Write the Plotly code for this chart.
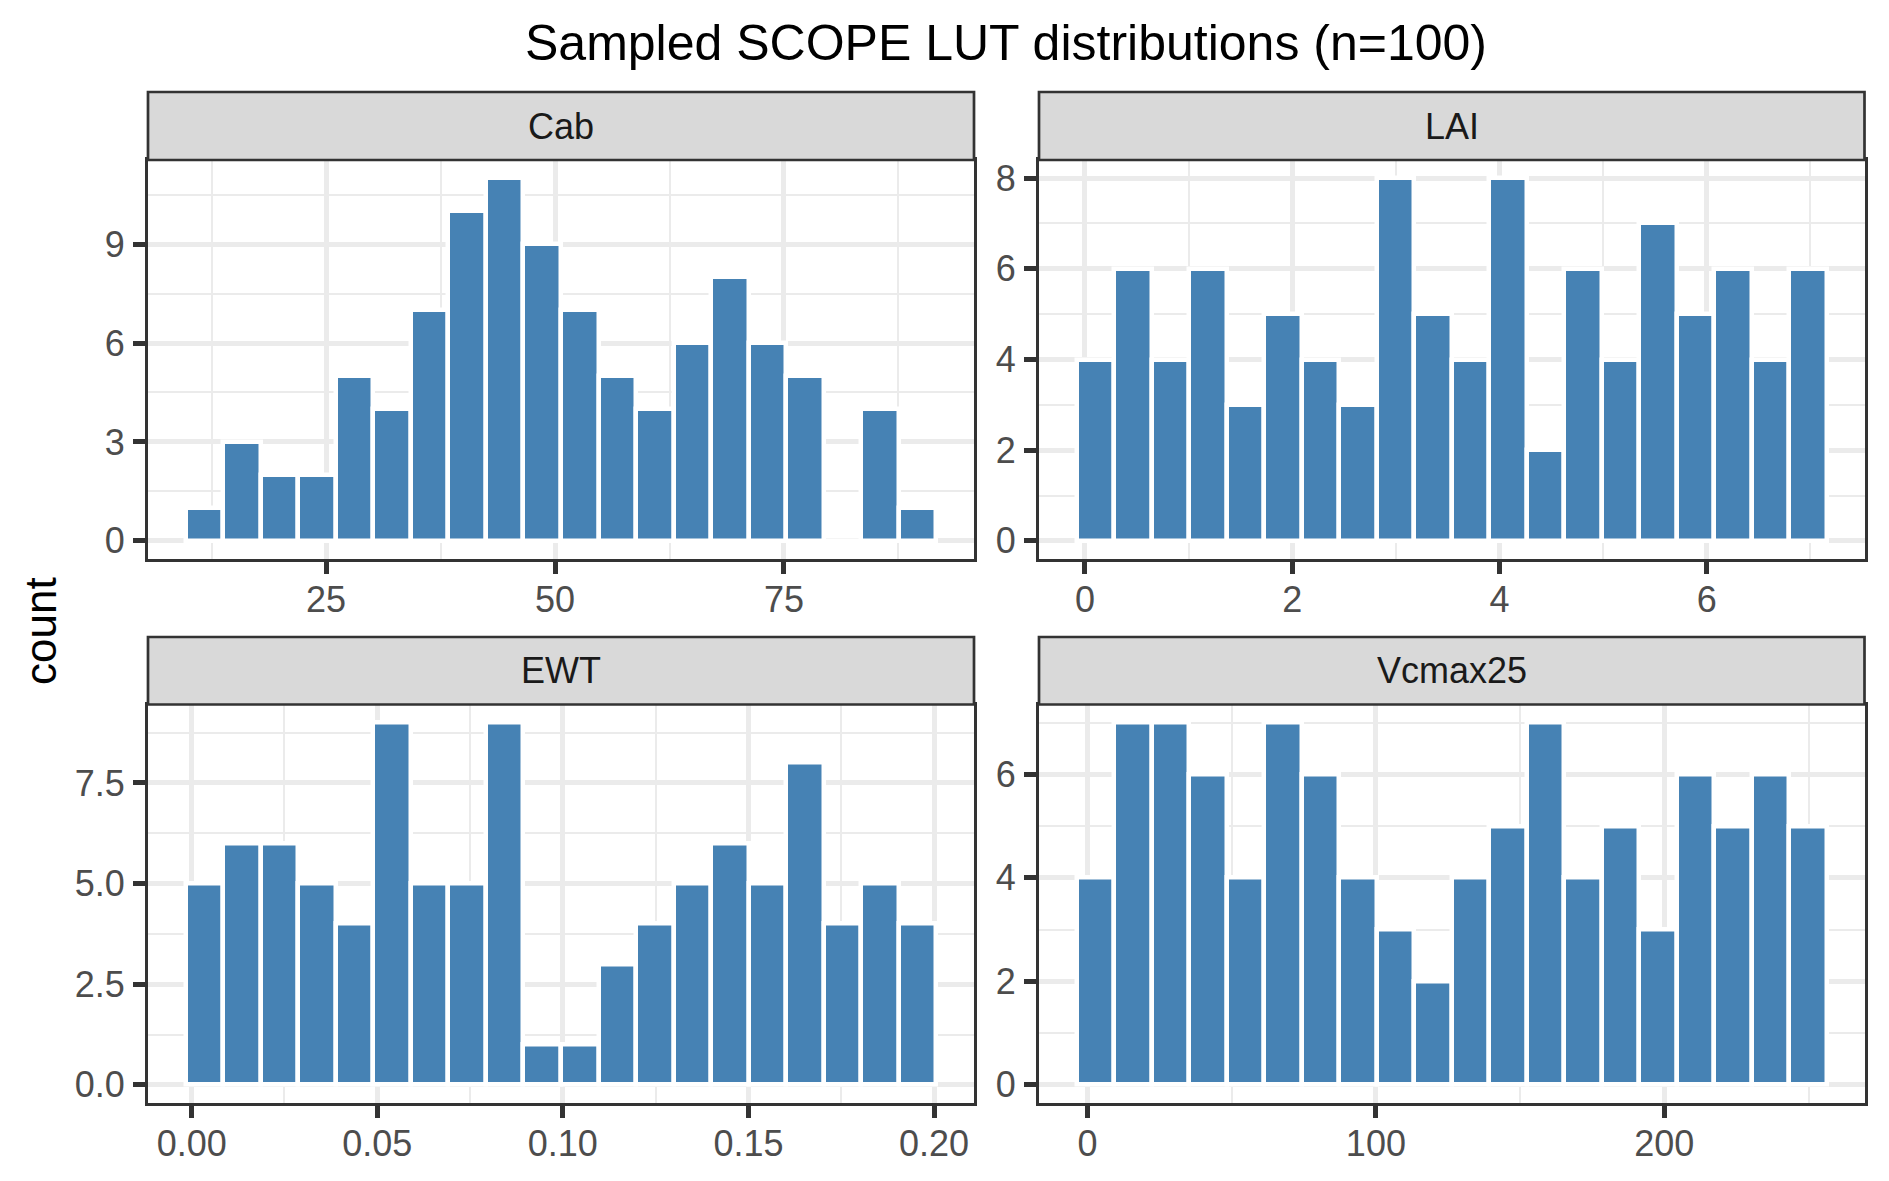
import numpy as np
import plotly.graph_objects as go

# ==== histogram counts (20 bins per variable) ====
panels = ["Cab", "LAI", "EWT", "Vcmax25"]

cab_counts = [1, 3, 2, 2, 5, 4, 7, 10, 11, 9, 7, 5, 4, 6, 8, 6, 5, 0, 4, 1]
lai_counts = [4, 6, 4, 6, 3, 5, 4, 3, 8, 5, 4, 8, 2, 6, 4, 7, 5, 6, 4, 6]
ewt_counts = [5, 6, 6, 5, 4, 9, 5, 5, 9, 1, 1, 3, 4, 5, 6, 5, 8, 4, 5, 4]
vcmax_counts = [4, 7, 7, 6, 4, 7, 6, 4, 3, 2, 4, 5, 7, 4, 5, 3, 6, 5, 6, 5]

# centre of the first and last bin (ggplot bins=20 puts them on min / max)
cab_span = [11.7, 89.6]
lai_span = [0.10, 6.98]
ewt_span = [0.0034, 0.1956]
vcmax_span = [2.7, 249.9]

counts = [cab_counts, lai_counts, ewt_counts, vcmax_counts]
spans = [cab_span, lai_span, ewt_span, vcmax_span]

# axis ticks: (x dtick, x format, y dtick, y format)
x_dticks = [25, 2, 0.05, 100]
x_formats = ["d", "d", ".2f", "d"]
y_dticks = [3, 2, 2.5, 2]
y_formats = ["d", "d", ".1f", "d"]

W, H = 1889, 1181
FONT = "Liberation Sans, Arial, Helvetica, sans-serif"
BAR = "#4682B4"
GRID = "#EBEBEB"
DARK = "#333333"

# panel boxes in pixels: (left, right, top, bottom) of the plotting area
col_x = [(148, 974), (1039, 1864.5)]
row_y = [(160, 559), (704.5, 1103)]
strip_top = [92, 637]

fig = go.Figure()

for i, name in enumerate(panels):
    r, c = divmod(i, 2)
    n = i + 1
    lo, hi = spans[i]
    nb = len(counts[i])
    centres = np.linspace(lo, hi, nb)
    w = (hi - lo) / (nb - 1)

    xa = "x" if n == 1 else f"x{n}"
    ya = "y" if n == 1 else f"y{n}"

    fig.add_trace(go.Bar(
        x=centres, y=counts[i], width=w,
        marker=dict(color=BAR, line=dict(color="white", width=4.5)),
        xaxis=xa, yaxis=ya, showlegend=False, hoverinfo="x+y",
    ))

    span = hi - lo + w
    xr = [lo - w / 2 - 0.05 * span, hi + w / 2 + 0.05 * span]
    ymax = max(counts[i])
    yr = [-0.05 * ymax, 1.05 * ymax]

    x0, x1 = col_x[c]
    y0, y1 = row_y[r]
    common = dict(
        showline=True, mirror=True, linecolor=DARK, linewidth=3,
        showgrid=True, gridcolor=GRID, gridwidth=4.5, zeroline=False,
        ticks="outside", ticklen=12, tickwidth=4.5, tickcolor=DARK,
        tickfont=dict(family=FONT, size=36, color="#4D4D4D"),
        automargin=False, fixedrange=True,
    )
    fig.layout[f"xaxis{'' if n == 1 else n}"] = dict(
        common, domain=[x0 / W, x1 / W], anchor=ya, range=xr,
        tick0=0, dtick=x_dticks[i], tickformat=x_formats[i],
        ticklabelstandoff=-5,
        minor=dict(dtick=x_dticks[i] / 2, showgrid=True, gridcolor=GRID,
                   gridwidth=2.3, ticks=""),
    )
    fig.layout[f"yaxis{'' if n == 1 else n}"] = dict(
        common, domain=[1 - y1 / H, 1 - y0 / H], anchor=xa, range=yr,
        tick0=0, dtick=y_dticks[i], tickformat=y_formats[i],
        ticklabelstandoff=1,
        minor=dict(dtick=y_dticks[i] / 2, showgrid=True, gridcolor=GRID,
                   gridwidth=2.3, ticks=""),
    )

    # facet strip
    st = strip_top[r]
    fig.add_shape(type="rect", xref="paper", yref="paper",
                  x0=x0 / W, x1=x1 / W, y0=1 - y0 / H, y1=1 - st / H,
                  fillcolor="#D9D9D9", line=dict(color=DARK, width=2.7),
                  layer="above")
    fig.add_annotation(text=name, xref="paper", yref="paper",
                       x=(x0 + x1) / 2 / W, y=1 - (st + y0) / 2 / H,
                       xanchor="center", yanchor="middle", showarrow=False,
                       font=dict(family=FONT, size=36, color="#1A1A1A"))

fig.add_annotation(text="count", xref="paper", yref="paper",
                   x=40 / W, y=1 - 631 / H, textangle=-90,
                   xanchor="center", yanchor="middle", showarrow=False,
                   font=dict(family=FONT, size=44, color="black"))

fig.update_layout(
    width=W, height=H,
    margin=dict(l=0, r=0, t=0, b=0),
    paper_bgcolor="white", plot_bgcolor="white",
    bargap=0,
    title=dict(text="Sampled SCOPE LUT distributions (n=100)",
               x=1006 / W, xanchor="center", y=1 - 42 / H, yanchor="middle",
               font=dict(family=FONT, size=50, color="black")),
)

# drop the browser's default body margin so the figure sits at (0, 0)
fig.write_html("out.html", config={"displayModeBar": False},
               post_script="document.body.style.margin = '0';")
